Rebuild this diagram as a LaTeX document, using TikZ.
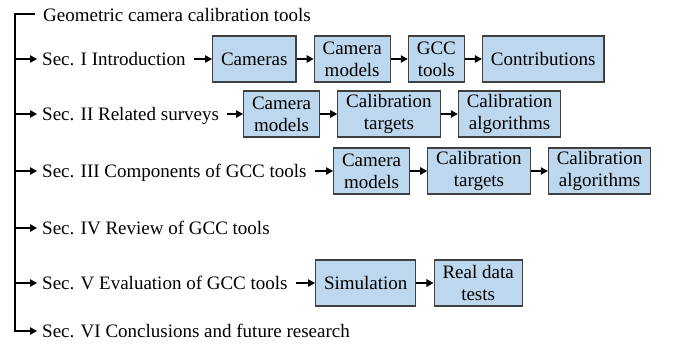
\documentclass[tikz,border=0pt]{standalone}
\usepackage{fontspec}
\setmainfont{Liberation Serif}
\usetikzlibrary{arrows.meta,positioning,calc}
\definecolor{boxfill}{HTML}{BDD7EE}
\definecolor{boxline}{HTML}{404040}
\begin{document}
\begin{tikzpicture}[x=1pt,y=-1pt,
  font=\fontsize{19}{22}\selectfont,
  box/.style={draw=boxline, fill=boxfill, line width=1.1pt, minimum height=46pt,
    inner xsep=8.5pt, inner ysep=2pt, align=center, anchor=west},
  sec/.style={inner sep=0pt, anchor=base west},
  arr/.style={line width=1.2pt, -{Triangle[length=7pt,width=7.5pt]}},
  spine/.style={line width=1.2pt},
  node distance=17pt]
\useasboundingbox (0,0) rectangle (677,354);

% row reference coordinates
\coordinate (top) at (15,14);
\coordinate (y1) at (0,59);
\coordinate (y2) at (0,114);
\coordinate (y3) at (0,171);
\coordinate (y4) at (0,228);
\coordinate (y5) at (0,283);
\coordinate (y6) at (0,331);

% texts
\node[sec] (title) at (43,21) {Geometric camera calibration tools};
\node[sec] (sec1) at (42,65.5) {Sec. I Introduction};
\node[sec] (sec2) at (42,120.5) {Sec. II Related surveys};
\node[sec] (sec3) at (42,177.5) {Sec. III Components of GCC tools};
\node[sec] (sec4) at (42,234.5) {Sec. IV Review of GCC tools};
\node[sec] (sec5) at (42,289.5) {Sec. V Evaluation of GCC tools};
\node[sec] (sec6) at (42,337.5) {Sec. VI Conclusions and future research};

% row 1 boxes
\node[box] (c11) at (212,59) {Cameras};
\node[box, right=of c11] (c12) {Camera\\models};
\node[box, right=of c12] (c13) {GCC\\tools};
\node[box, right=of c13] (c14) {Contributions};
% row 2 boxes
\node[box] (c21) at (243,114) {Camera\\models};
\node[box, right=of c21] (c22) {Calibration\\targets};
\node[box, right=of c22] (c23) {Calibration\\algorithms};
% row 3 boxes
\node[box] (c31) at (333,171) {Camera\\models};
\node[box, right=of c31] (c32) {Calibration\\targets};
\node[box, right=of c32] (c33) {Calibration\\algorithms};
% row 5 boxes
\node[box] (c51) at (315,283) {Simulation};
\node[box, right=of c51] (c52) {Real data\\tests};

% spine and bottom branch
\coordinate (bot) at (top|-y6);
\draw[arr] ($(title.west|-top)+(-8pt,0)$) -- (top) -- (bot) -- ($(sec6.west|-y6)+(-5pt,0)$);

% branches from the spine
\foreach \i in {1,...,5}{
  \draw[arr] (top|-y\i) -- ($(sec\i.west|-y\i)+(-5pt,0)$);
}

% arrows from section texts to boxes
\draw[arr] ($(sec1.east|-y1)+(8pt,0)$) -- (c11.west);
\draw[arr] ($(sec2.east|-y2)+(8pt,0)$) -- (c21.west);
\draw[arr] ($(sec3.east|-y3)+(8pt,0)$) -- (c31.west);
\draw[arr] ($(sec5.east|-y5)+(8pt,0)$) -- (c51.west);

% arrows between boxes
\draw[arr] (c11) -- (c12);
\draw[arr] (c12) -- (c13);
\draw[arr] (c13) -- (c14);
\draw[arr] (c21) -- (c22);
\draw[arr] (c22) -- (c23);
\draw[arr] (c31) -- (c32);
\draw[arr] (c32) -- (c33);
\draw[arr] (c51) -- (c52);
\end{tikzpicture}
\end{document}
